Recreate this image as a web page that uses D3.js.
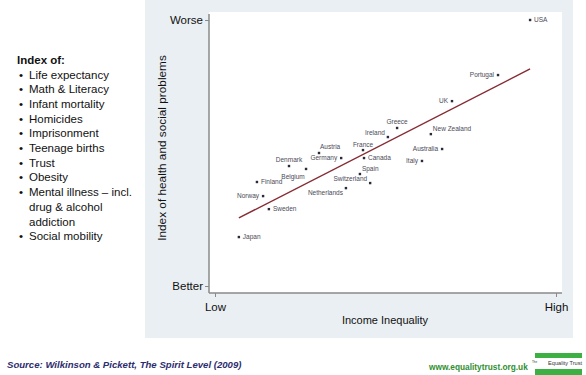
<!DOCTYPE html>
<html>
<head>
<meta charset="utf-8">
<script src="https://cdn.jsdelivr.net/npm/d3@7"></script>
<style>
  body { margin: 0; background: #fff; }
  text { font-family: Arial, "Liberation Sans", sans-serif; }
  .ptLabel { font-size: 6.5px; fill: #4a4a58; }
  .axis text { font-size: 11.5px; fill: #111; }
  .axis line { stroke: #8a8a8a; }
</style>
</head>
<body>
<div id="chart"></div>
<script>
// data (x: income inequality, y: health & social problems index, 0-10 scale)
var countries = ["USA", "Portugal", "UK", "Greece", "Ireland", "New Zealand", "France", "Austria",
  "Germany", "Canada", "Australia", "Italy", "Denmark", "Belgium", "Spain", "Finland",
  "Switzerland", "Netherlands", "Norway", "Sweden", "Japan"];
var inequality = [9.24, 8.30, 6.95, 5.34, 5.07, 6.33, 4.34, 3.05,
  3.70, 4.37, 6.66, 6.07, 2.17, 2.67, 4.25, 1.23,
  4.55, 3.84, 1.41, 1.58, 0.70];
var healthIndex = [10.0, 7.93, 6.95, 5.94, 5.60, 5.71, 5.11, 5.00,
  4.81, 4.81, 5.15, 4.70, 4.51, 4.40, 4.21, 3.91,
  3.87, 3.68, 3.38, 2.89, 1.84];
// fitted line end points
var fitX = [0.70, 9.24];
var fitY = [2.56, 8.16];

var yTickValues = [0, 10];
var yTickLabels = ["Better", "Worse"];
var xTickValues = [0, 10];
var xTickLabels = ["Low", "High"];

var indexItems = ["Life expectancy", "Math & Literacy", "Infant mortality", "Homicides",
  "Imprisonment", "Teenage births", "Trust", "Obesity",
  ["Mental illness \u2013 incl.", "drug & alcohol", "addiction"], "Social mobility"];

// label placement for each point: [anchor, dx, dy]
var labelPos = {
  "USA": ["start", 4, 0], "Portugal": ["end", -4, 0], "UK": ["end", -4, 0],
  "Greece": ["middle", 0, -6], "Ireland": ["end", -3, -4], "New Zealand": ["start", 2, -5],
  "France": ["middle", 0, -5], "Austria": ["start", 1, -6], "Germany": ["end", -4, 0],
  "Canada": ["start", 4, 0], "Australia": ["end", -4, 0], "Italy": ["end", -4, 0],
  "Denmark": ["middle", 0, -6], "Belgium": ["middle", -13, 8], "Spain": ["start", 2, -5],
  "Finland": ["start", 4, 0], "Switzerland": ["end", -3, -4], "Netherlands": ["end", -3, 5],
  "Norway": ["end", -4, 0], "Sweden": ["start", 4, 0], "Japan": ["start", 4, 0]
};

var svgWidth = 586;
var svgHeight = 375;

var plot = { left: 209, top: 12, right: 562, bottom: 293 };

var svg = d3.select("#chart")
  .append("svg")
  .attr("width", svgWidth)
  .attr("height", svgHeight);

// grey-blue panel and white plot region
svg.append("rect")
  .attr("x", 145).attr("y", 0)
  .attr("width", 428).attr("height", 338)
  .attr("fill", "#e9eff3");

svg.append("rect")
  .attr("x", plot.left).attr("y", plot.top)
  .attr("width", plot.right - plot.left).attr("height", plot.bottom - plot.top)
  .attr("fill", "#fff");

var xScale = d3.scaleLinear().domain([0, 10]).range([215, 556]);
var yScale = d3.scaleLinear().domain([0, 10]).range([286, 20]);

// axis lines
svg.append("line")
  .attr("x1", plot.left).attr("x2", plot.left)
  .attr("y1", plot.top + 2).attr("y2", plot.bottom)
  .attr("stroke", "#8a8a8a").attr("stroke-width", 1.5);
svg.append("line")
  .attr("x1", plot.left).attr("x2", plot.right)
  .attr("y1", plot.bottom).attr("y2", plot.bottom)
  .attr("stroke", "#8a8a8a").attr("stroke-width", 1.5);

var leftAxis = d3.axisLeft(yScale)
  .tickValues(yTickValues)
  .tickFormat((d, i) => yTickLabels[i])
  .tickSize(4)
  .tickPadding(2);
var yAxis = svg.append("g")
  .attr("class", "axis")
  .attr("transform", `translate(${plot.left}, 0)`)
  .call(leftAxis);
yAxis.select(".domain").remove();

var bottomAxis = d3.axisBottom(xScale)
  .tickValues(xTickValues)
  .tickFormat((d, i) => xTickLabels[i])
  .tickSize(4)
  .tickPadding(6);
var xAxis = svg.append("g")
  .attr("class", "axis")
  .attr("transform", `translate(0, ${plot.bottom})`)
  .call(bottomAxis);
xAxis.select(".domain").remove();

// axis titles
svg.append("text")
  .attr("transform", "rotate(-90)")
  .attr("x", -148)
  .attr("y", 166)
  .attr("text-anchor", "middle")
  .attr("font-size", "11.8px")
  .attr("fill", "#111")
  .text("Index of health and social problems");

svg.append("text")
  .attr("x", 385)
  .attr("y", 324)
  .attr("text-anchor", "middle")
  .attr("font-size", "11px")
  .attr("fill", "#111")
  .text("Income Inequality");

// fitted line
svg.append("line")
  .attr("x1", xScale(fitX[0])).attr("y1", yScale(fitY[0]))
  .attr("x2", xScale(fitX[1])).attr("y2", yScale(fitY[1]))
  .attr("stroke", "#862a33")
  .attr("stroke-width", 1.4);

// points
var points = countries.map((c, i) => ({ name: c, x: inequality[i], y: healthIndex[i] }));

svg.selectAll("rect.pt")
  .data(points)
  .enter()
  .append("rect")
  .attr("class", "pt")
  .attr("x", d => xScale(d.x) - 1.2)
  .attr("y", d => yScale(d.y) - 1.2)
  .attr("width", 2.4)
  .attr("height", 2.4)
  .attr("fill", "#2a2a38");

svg.selectAll("text.ptLabel")
  .data(points)
  .enter()
  .append("text")
  .attr("class", "ptLabel")
  .attr("x", d => xScale(d.x) + labelPos[d.name][1])
  .attr("y", d => yScale(d.y) + labelPos[d.name][2])
  .attr("dy", "0.35em")
  .attr("text-anchor", d => labelPos[d.name][0])
  .text(d => d.name);

// left hand list
var listGroup = svg.append("g").attr("font-size", "11.5px").attr("fill", "#111");
listGroup.append("text")
  .attr("x", 17).attr("y", 64)
  .attr("font-weight", "bold")
  .text("Index of:");

var lineY = 78.5;
var lineGap = 14.7;
indexItems.forEach(function(item) {
  var lines = Array.isArray(item) ? item : [item];
  listGroup.append("text")
    .attr("x", 19).attr("y", lineY)
    .text("\u2022");
  lines.forEach(function(l) {
    listGroup.append("text")
      .attr("x", 29).attr("y", lineY)
      .text(l);
    lineY += lineGap;
  });
});

// footer
svg.append("text")
  .attr("x", 7).attr("y", 368)
  .attr("font-size", "9.6px")
  .attr("font-style", "italic")
  .attr("font-weight", "bold")
  .attr("fill", "#2d2d6e")
  .text("Source: Wilkinson & Pickett, The Spirit Level (2009)");

svg.append("text")
  .attr("x", 429).attr("y", 370)
  .attr("font-size", "8.3px")
  .attr("font-weight", "bold")
  .attr("fill", "#2f8f2f")
  .text("www.equalitytrust.org.uk");

// logo
svg.append("rect").attr("x", 535).attr("y", 353).attr("width", 47).attr("height", 5).attr("fill", "#3cb043");
svg.append("rect").attr("x", 535).attr("y", 369).attr("width", 47).attr("height", 6).attr("fill", "#3cb043");
svg.append("text")
  .attr("x", 582).attr("y", 365)
  .attr("text-anchor", "end")
  .attr("font-size", "5.6px")
  .attr("fill", "#333")
  .text("Equality Trust");
svg.append("text")
  .attr("x", 532).attr("y", 362.5)
  .attr("font-size", "3px")
  .attr("fill", "#333")
  .text("The");
</script>
</body>
</html>
